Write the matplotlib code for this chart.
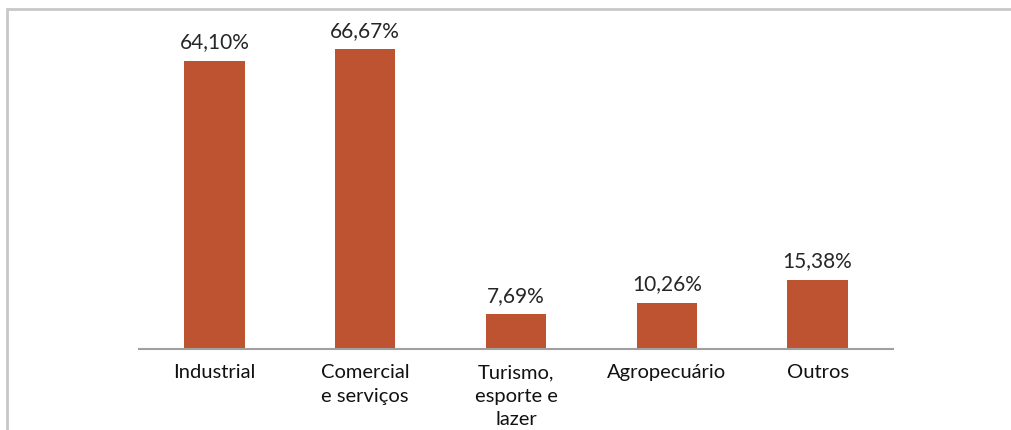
import matplotlib
matplotlib.use("Agg")
import matplotlib.pyplot as plt
from matplotlib.patches import Rectangle

categories = ["Industrial", "Comercial\ne serviços", "Turismo,\nesporte e\nlazer", "Agropecuário", "Outros"]
values = [64.10, 66.67, 7.69, 10.26, 15.38]
value_labels = ["64,10%", "66,67%", "7,69%", "10,26%", "15,38%"]

W, H = 1011, 430
fig = plt.figure(figsize=(W / 100, H / 100), dpi=100)
plt.rcParams['font.family'] = ['Lato', 'DejaVu Sans']

# outer chart frame (clipped on right and bottom)
fig.patches.append(Rectangle((7 / W, -0.1), 1.2, 1 - 8.5 / H + 0.1, transform=fig.transFigure,
                             fill=False, edgecolor='#C8C8C8', linewidth=2.0))

left, right = 139 / W, 893 / W
bottom = 1 - 349 / H
top = 1 - 34 / H
ax = fig.add_axes([left, bottom, right - left, top - bottom])

x = range(len(categories))
bars = ax.bar(x, values, width=0.4, color='#BE5332')
ax.set_xlim(-0.5, len(categories) - 0.5)
ax.set_ylim(0, 70)

for b, lab in zip(bars, value_labels):
    ax.annotate(lab, (b.get_x() + b.get_width() / 2, b.get_height()),
                xytext=(0, 6), textcoords='offset points', ha='center', va='bottom',
                fontsize=15, color='#262626')

ax.set_xticks(list(x))
ax.set_xticklabels(categories, fontsize=14.5, color='#111111', linespacing=1.45, va='top')
ax.tick_params(axis='x', length=0, pad=11)
ax.set_yticks([])
for s in ['top', 'right', 'left']:
    ax.spines[s].set_visible(False)
ax.spines['bottom'].set_color('#A0A0A0')
ax.spines['bottom'].set_linewidth(1.5)

fig.savefig("out.png", dpi=100, facecolor='white')
